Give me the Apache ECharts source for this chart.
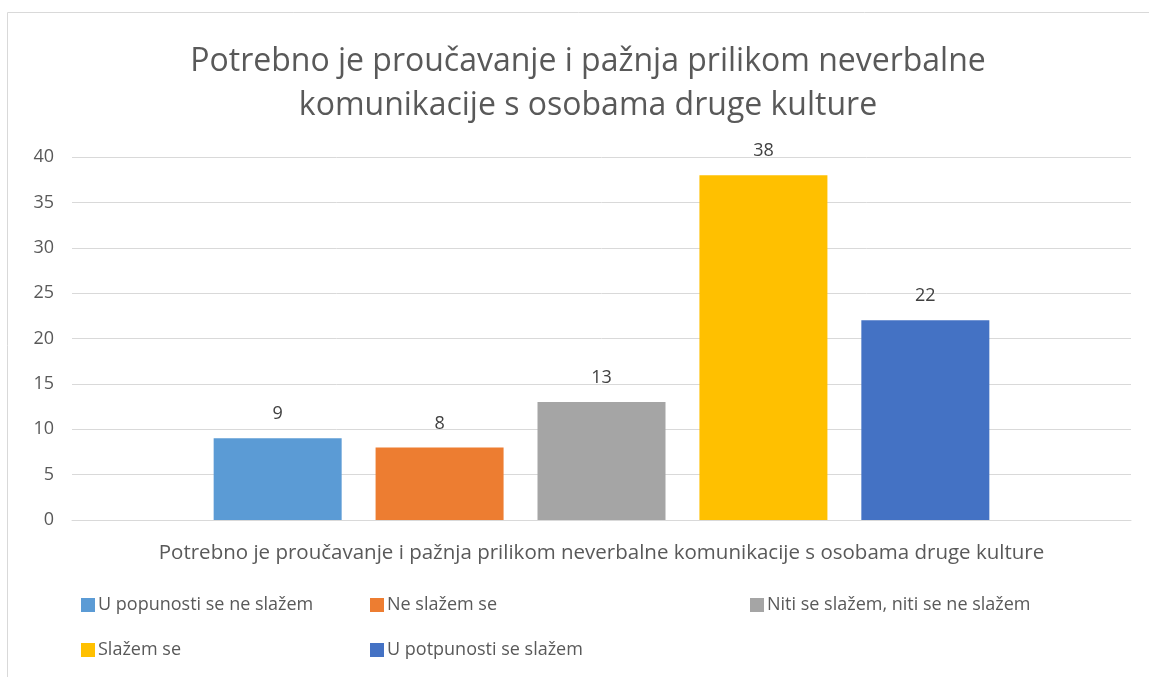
<!DOCTYPE html>
<html>
<head>
<meta charset="utf-8">
<script src="https://cdn.jsdelivr.net/npm/echarts@6/dist/echarts.min.js"></script>
<style>
  html, body { margin: 0; padding: 0; background: #fff; }
  #container { width: 1149px; height: 677px; }
</style>
</head>
<body>
<div id="container"></div>
<script>
var categories = ['Potrebno je proučavanje i pažnja prilikom neverbalne komunikacije s osobama druge kulture'];
var seriesNames = ['U popunosti se ne slažem', 'Ne slažem se', 'Niti se slažem, niti se ne slažem', 'Slažem se', 'U potpunosti se slažem'];
var seriesValues = [9, 8, 13, 38, 22];
var seriesColors = ['#5b9bd5', '#ed7d31', '#a5a5a5', '#ffc000', '#4472c4'];
var titleText = 'Potrebno je proučavanje i pažnja prilikom neverbalne\nkomunikacije s osobama druge kulture';

var font = '"Open Sans", "Noto Sans", sans-serif';
var myChart = echarts.init(document.getElementById('container'));

var series = seriesNames.map(function (name, i) {
    return {
        name: name,
        type: 'bar',
        data: [seriesValues[i]],
        barWidth: 128,
        barGap: '26.5%',
        itemStyle: { color: seriesColors[i] },
        label: {
            show: true,
            position: 'top',
            distance: 15,
            color: '#404040',
            fontSize: 18,
            fontFamily: font
        }
    };
});

// legend laid out in columns like the original
function legendCol(left, names) {
    return {
        orient: 'vertical',
        left: left,
        top: 591,
        itemWidth: 14,
        itemHeight: 14,
        itemGap: 27,
        icon: 'rect',
        data: names,
        textStyle: { color: '#595959', fontSize: 18, fontFamily: font, padding: [0, 0, 0, -2] }
    };
}

var option = {
    animation: false,
    title: {
        text: titleText,
        left: 583,          // centre of the title, slightly right of the page centre
        textAlign: 'center',
        top: 35,
        textStyle: {
            color: '#595959',
            fontSize: 32,
            fontWeight: 'normal',
            fontFamily: font,
            lineHeight: 44
        }
    },
    legend: [
        legendCol(76, [seriesNames[0], seriesNames[3]]),
        legendCol(365, [seriesNames[1], seriesNames[4]]),
        legendCol(745, [seriesNames[2]])
    ],
    grid: { left: 72, right: 18, top: 157, bottom: 157 },
    xAxis: {
        type: 'category',
        data: categories,
        axisLine: { lineStyle: { color: '#d9d9d9' } },
        axisTick: { show: false },
        axisLabel: { color: '#595959', fontSize: 20.5, fontFamily: font, margin: 23 }
    },
    yAxis: {
        type: 'value',
        min: 0,
        max: 40,
        interval: 5,
        axisLine: { show: false },
        axisTick: { show: false },
        splitLine: { lineStyle: { color: '#d9d9d9' } },
        axisLabel: { color: '#595959', fontSize: 18, fontFamily: font, margin: 18 }
    },
    graphic: [{
        type: 'rect',
        shape: { x: 7.5, y: 12.5, width: 1160, height: 700 },
        style: { fill: 'none', stroke: '#d9d9d9', lineWidth: 1 },
        silent: true
    }],
    series: series
};

myChart.setOption(option);
</script>
</body>
</html>
